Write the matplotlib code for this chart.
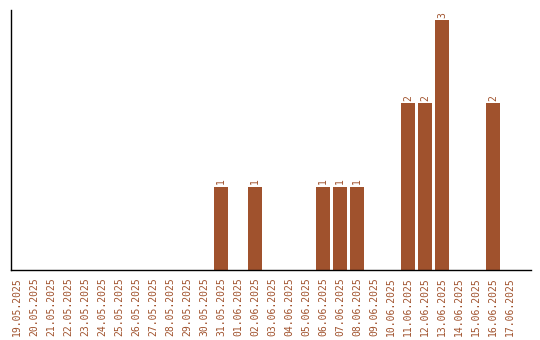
import matplotlib
matplotlib.use('Agg')
import matplotlib.pyplot as plt

dates = ['19.05.2025', '20.05.2025', '21.05.2025', '22.05.2025', '23.05.2025',
         '24.05.2025', '25.05.2025', '26.05.2025', '27.05.2025', '28.05.2025',
         '29.05.2025', '30.05.2025', '31.05.2025', '01.06.2025', '02.06.2025',
         '03.06.2025', '04.06.2025', '05.06.2025', '06.06.2025', '07.06.2025',
         '08.06.2025', '09.06.2025', '10.06.2025', '11.06.2025', '12.06.2025',
         '13.06.2025', '14.06.2025', '15.06.2025', '16.06.2025', '17.06.2025']
counts = [0, 0, 0, 0, 0, 0, 0, 0, 0, 0, 0, 0, 1, 0, 1, 0, 0, 0, 1, 1,
          1, 0, 0, 2, 2, 3, 0, 0, 2, 0]

color = '#A0522D'

fig = plt.figure(figsize=(5.4, 3.4), dpi=100)
ax = fig.add_axes([11 / 540, 70 / 340, 520 / 540, 260 / 340])

x = list(range(len(dates)))
ax.bar(x, counts, width=0.82, color=color)

for xi, c in zip(x, counts):
    if c > 0:
        ax.text(xi, c + 0.03, str(c), rotation=90, ha='center', va='bottom',
                fontsize=7, family='DejaVu Sans Mono', color=color)

ax.set_xticks(x)
ax.set_xticklabels(dates, rotation=90, fontsize=7, family='DejaVu Sans Mono', color=color)
ax.tick_params(axis='x', length=0, pad=5)
ax.set_yticks([])
ax.set_xlim(-0.35, 30.24)
ax.set_ylim(0, 3.12)
for side in ['top', 'right']:
    ax.spines[side].set_visible(False)
ax.spines['left'].set_linewidth(1.0)
ax.spines['bottom'].set_linewidth(1.0)

fig.savefig('out.png', dpi=100)
